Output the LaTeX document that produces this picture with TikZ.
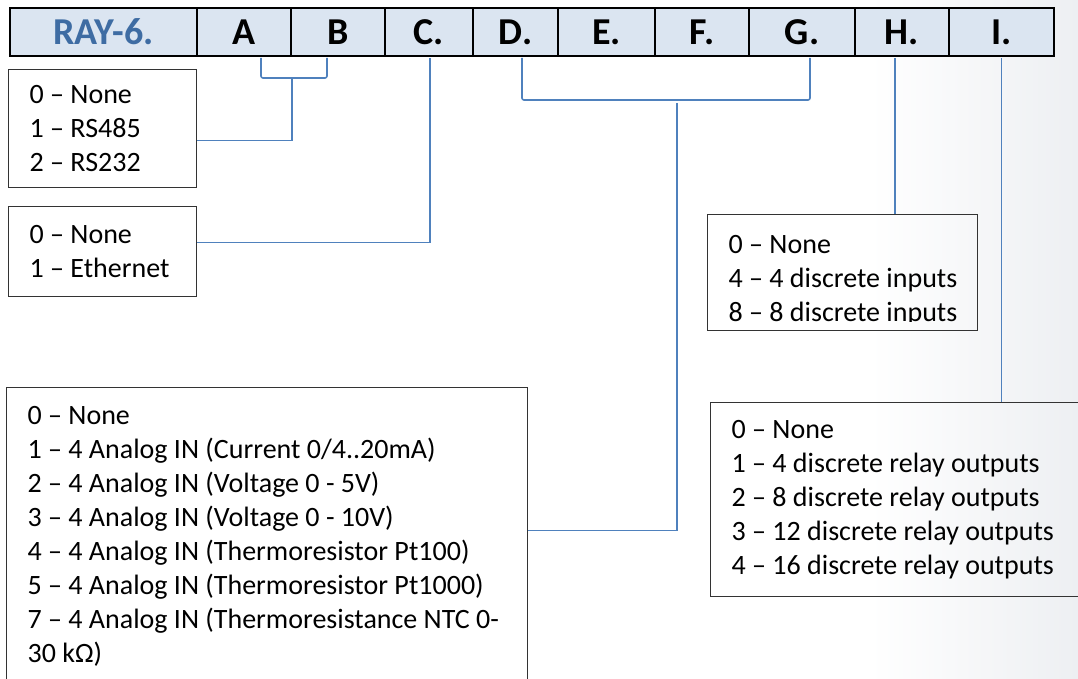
\documentclass[tikz,border=0pt]{standalone}
\usepackage{fontspec}
\setmainfont{Carlito}
\usetikzlibrary{positioning, calc}
\definecolor{barfill}{HTML}{DBE5F1}
\definecolor{raytext}{HTML}{3E6CA3}
\definecolor{wireblue}{HTML}{4F81BD}
\definecolor{pageedge}{HTML}{EDEFF2}

\begin{document}
\begin{tikzpicture}[x=1pt, y=-1pt,
    cell/.style={draw, fill=barfill, line width=1.8pt, minimum height=48pt,
        inner sep=0pt, outer sep=0pt, font=\fontsize{38}{42}\selectfont\bfseries},
    optbox/.style={draw=black!80, line width=1.3pt, inner xsep=21pt, inner ysep=0pt,
        align=flush left, anchor=north west, font=\fontsize{28}{34}\selectfont,
        execute at begin node={\spaceskip=0pt\xspaceskip=0pt\relax}},
    wire/.style={draw=wireblue, line width=1.6pt}]
    \useasboundingbox (0,0) rectangle (1078,679);
    \clip (0,0) rectangle (1078,679);
    \shade[left color=white, right color=pageedge] (870,0) rectangle (1078,679);

    % code bar
    \node[cell, text=raytext, minimum width=187pt, anchor=west] (ray) at (10,32) {RAY-6.};
    \node[cell, minimum width=94pt, right=0pt of ray] (A) {A};
    \node[cell, minimum width=94pt, right=0pt of A] (B) {B};
    \node[cell, minimum width=88pt, right=0pt of B] (C) {C.};
    \node[cell, minimum width=85pt, right=0pt of C] (D) {D.};
    \node[cell, minimum width=97pt, right=0pt of D] (E) {E.};
    \node[cell, minimum width=94pt, right=0pt of E] (F) {F.};
    \node[cell, minimum width=106pt, right=0pt of F] (G) {G.};
    \node[cell, minimum width=94pt, right=0pt of G] (H) {H.};
    \node[cell, minimum width=105pt, right=0pt of H] (I) {I.};
    \draw[line width=2.6pt] (ray.north west) rectangle (I.south east);

    % option boxes
    \node[optbox, text width=146pt, minimum height=118pt] (comm) at (8,69)
        {0 -- None\\1 -- RS485\\2 -- RS232};
    \node[optbox, text width=146pt, minimum height=90pt] (ether) at (8,206)
        {0 -- None\\1 -- Ethernet};
    \node[optbox, text width=479pt, minimum height=297pt] (aio) at (6,387)
        {0 -- None\\
         1 -- 4 Analog IN (Current 0/4..20mA)\\
         2 -- 4 Analog IN (Voltage 0 - 5V)\\
         3 -- 4 Analog IN (Voltage 0 - 10V)\\
         4 -- 4 Analog IN (Thermoresistor Pt100)\\
         5 -- 4 Analog IN (Thermoresistor Pt1000)\\
         7 -- 4 Analog IN (Thermoresistance NTC 0-\\
         30 kΩ)};
    \node[optbox, minimum width=270pt, minimum height=116pt] (din) at (707,214) {};
    \begin{scope}
        \clip (din.north west) rectangle ([yshift=10pt]din.south east);
        \node[optbox, draw=none, inner xsep=0pt] (dintext) at (728,234.5)
            {0 -- None\\4 -- 4 discrete inputs\\8 -- 8 discrete inputs};
    \end{scope}
    \node[optbox, text width=348pt, minimum height=194pt] (dout) at (710,402)
        {0 -- None\\1 -- 4 discrete relay outputs\\2 -- 8 discrete relay outputs\\
         3 -- 12 discrete relay outputs\\4 -- 16 discrete relay outputs};

    % connectors
    \coordinate (ab) at (292,78);
    \coordinate (dg) at (677,100);
    \coordinate (hdrop) at (895,58);
    \draw[wire, rounded corners=2pt] ([xshift=17pt,yshift=-2pt]A.south) |- (ab)
        -| ([xshift=-11pt,yshift=-2pt]B.south);
    \draw[wire] (ab) |- ([yshift=-12pt]comm.east);
    \draw[wire] ([xshift=1pt,yshift=-2pt]C.south) |- ([yshift=9pt]ether.east);
    \draw[wire, rounded corners=2pt] ([xshift=6.5pt,yshift=-2pt]D.south) |- (dg)
        -| ([xshift=8pt,yshift=-2pt]G.south);
    \draw[wire] ([yshift=-3pt]dg) |- ([yshift=5.5pt]aio.east);
    \draw[wire] (hdrop) -- (hdrop |- din.north);
    \draw[wire] ([yshift=-2pt]I.south) -- (I.south |- dout.north);
\end{tikzpicture}
\end{document}
